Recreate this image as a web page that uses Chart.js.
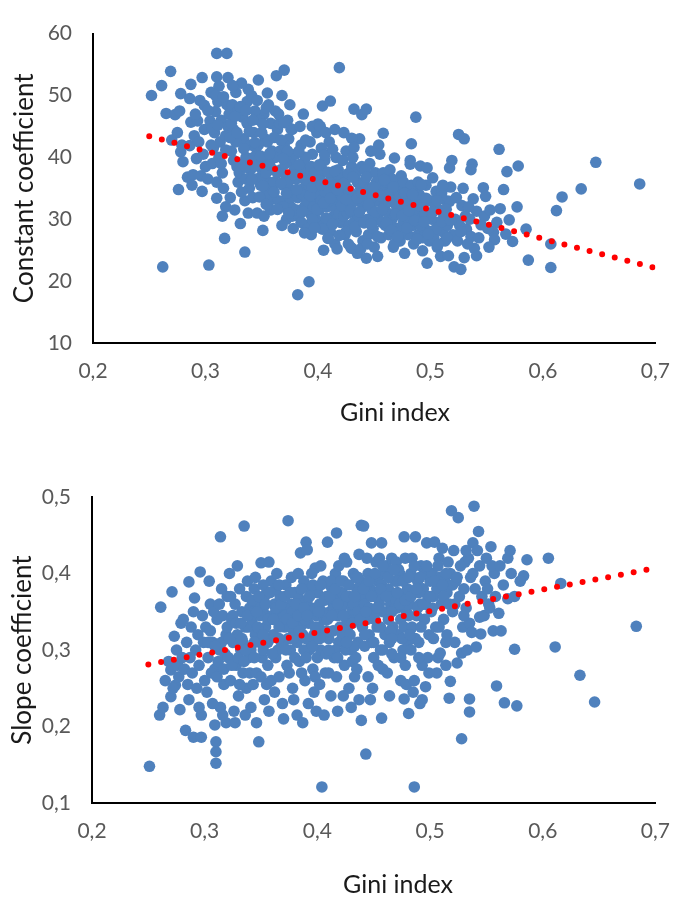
<!DOCTYPE html>
<html><head><meta charset="utf-8">
<script src="https://cdn.jsdelivr.net/npm/chart.js@4.4.1/dist/chart.umd.min.js"></script>
<style>
html,body{margin:0;padding:0;background:#fff;}
#wrap{position:relative;width:686px;height:900px;overflow:hidden;}
canvas{position:absolute;left:0;}
#c1{top:0;} #c2{top:440px;}
</style></head><body>
<div id="wrap"><canvas id="c1" width="686" height="440"></canvas><canvas id="c2" width="686" height="460"></canvas></div>
<script>
const xTickLabels = ['0,2','0,3','0,4','0,5','0,6','0,7'];
const topYTickLabels = ['10','20','30','40','50','60'];
const bottomYTickLabels = ['0,1','0,2','0,3','0,4','0,5'];
const xTitle = 'Gini index';

// Gini index vs constant coefficient
const constantPoints = [
[0.252,50.0],[0.262,22.3],[0.261,51.6],[0.265,47.1],[0.273,46.9],[0.269,53.9],[0.270,42.8],[0.275,44.0],[0.276,34.8],[0.278,50.3],[0.278,40.9],[0.280,39.3],[0.277,47.5],[0.279,42.0],
[0.284,36.8],[0.286,41.9],[0.287,51.8],[0.286,49.5],[0.287,45.7],[0.289,37.2],[0.292,39.8],[0.293,45.9],[0.295,49.2],[0.297,52.9],[0.297,34.5],[0.299,48.4],[0.290,43.5],[0.294,42.5],[0.298,40.5],[0.296,37.0],[0.291,47.0],[0.299,44.5],[0.300,38.5],[0.288,35.5],
[0.303,22.6],[0.304,45.9],[0.309,47.4],[0.310,53.0],[0.310,56.8],[0.310,33.4],[0.317,26.9],[0.318,32.0],[0.319,56.8],[0.305,50.5],[0.307,41.5],[0.302,36.5],[0.306,39.0],[0.308,44.0],[0.311,49.0],[0.312,51.5],[0.313,42.5],[0.314,46.0],[0.315,37.5],[0.316,35.0],[0.312,40.0],[0.318,43.5],[0.319,48.5],[0.320,52.9],[0.310,36.0],[0.305,42.0],[0.315,30.5],[0.320,45.0],[0.314,39.0],[0.309,50.0],
[0.321,47.0],[0.323,41.0],[0.325,44.5],[0.327,50.5],[0.328,38.5],[0.329,36.0],[0.331,29.3],[0.335,24.7],[0.333,46.5],[0.334,43.0],[0.336,40.0],[0.337,49.0],[0.338,51.0],[0.339,35.0],[0.322,33.5],[0.326,31.5],[0.324,48.5],[0.332,52.0],[0.330,37.5],[0.340,42.0],[0.335,33.0],[0.327,42.5],[0.323,45.5],[0.337,45.5],[0.333,39.0],[0.338,31.0],[0.329,47.5],[0.340,38.0],[0.325,39.5],[0.336,36.5],
[0.341,50.0],[0.343,44.0],[0.345,41.5],[0.347,52.5],[0.348,38.5],[0.349,35.5],[0.351,28.2],[0.355,50.4],[0.352,47.0],[0.353,43.0],[0.354,39.5],[0.356,36.0],[0.357,33.0],[0.358,45.5],[0.359,41.0],[0.342,33.5],[0.344,47.5],[0.346,31.0],[0.350,37.0],[0.352,30.5],[0.355,42.5],[0.360,38.0],[0.345,36.5],[0.348,46.0],[0.353,34.0],[0.358,31.5],[0.343,40.0],[0.356,48.5],[0.350,44.0],[0.359,35.0],[0.347,42.0],[0.354,37.5],
[0.363,53.2],[0.368,50.0],[0.370,54.1],[0.362,47.5],[0.364,44.5],[0.366,41.0],[0.367,38.0],[0.369,35.5],[0.371,33.0],[0.372,30.0],[0.373,46.0],[0.374,43.0],[0.376,39.5],[0.377,36.5],[0.378,34.0],[0.379,31.5],[0.375,48.5],[0.361,36.0],[0.365,33.0],[0.368,29.0],[0.370,42.0],[0.372,37.0],[0.374,35.0],[0.376,32.0],[0.378,28.5],[0.380,40.5],[0.362,40.0],[0.366,45.5],[0.371,39.0],[0.373,36.0],[0.375,33.5],[0.377,30.5],[0.379,38.0],[0.364,37.5],[0.369,32.0],[0.373,41.0],[0.377,44.5],[0.382,17.8],[0.376,44.6],
[0.381,36.5],[0.382,33.5],[0.383,30.5],[0.384,45.0],[0.385,42.0],[0.386,39.0],[0.387,35.0],[0.388,32.0],[0.389,29.0],[0.390,37.5],[0.391,34.5],[0.392,19.9],[0.393,31.0],[0.394,27.5],[0.395,40.5],[0.396,36.0],[0.397,33.0],[0.398,30.0],[0.399,44.0],[0.384,38.0],[0.386,34.0],[0.388,36.5],[0.390,33.0],[0.392,35.5],[0.394,38.5],[0.396,32.0],[0.398,35.0],[0.381,31.5],[0.385,29.5],[0.389,40.0],[0.393,42.5],[0.397,37.5],[0.400,34.0],[0.387,47.0],[0.391,28.5],[0.395,30.0],[0.383,41.0],[0.395,45.0],[0.400,45.4],[0.389,42.8],
[0.401,31.5],[0.402,36.5],[0.403,33.0],[0.404,48.3],[0.405,29.0],[0.406,39.5],[0.407,35.0],[0.408,32.0],[0.409,27.0],[0.410,42.5],[0.411,49.1],[0.412,37.0],[0.413,34.0],[0.414,30.5],[0.415,26.0],[0.416,40.0],[0.417,36.0],[0.418,33.0],[0.419,54.5],[0.420,29.5],[0.402,45.0],[0.404,38.0],[0.406,34.5],[0.408,30.0],[0.410,36.0],[0.412,33.0],[0.414,35.5],[0.416,31.5],[0.418,38.0],[0.420,35.0],[0.403,41.5],[0.407,44.0],[0.411,28.0],[0.415,44.5],[0.419,31.0],[0.405,25.0],[0.406,40.4],[0.413,41.3],[0.404,28.4],[0.409,26.9],[0.417,25.2],
[0.421,37.0],[0.422,33.5],[0.423,30.5],[0.424,27.5],[0.425,41.0],[0.426,35.0],[0.427,32.0],[0.428,29.0],[0.429,25.5],[0.430,38.5],[0.431,34.0],[0.432,47.8],[0.433,31.0],[0.434,28.0],[0.435,36.0],[0.436,33.0],[0.437,43.0],[0.438,30.0],[0.439,46.9],[0.440,26.5],[0.422,39.5],[0.424,36.0],[0.426,31.0],[0.428,34.5],[0.430,32.5],[0.432,29.5],[0.434,37.5],[0.436,30.5],[0.438,35.0],[0.440,32.0],[0.423,44.0],[0.427,26.0],[0.431,40.0],[0.435,24.5],[0.439,38.5],[0.425,28.0],[0.430,43.1],[0.432,41.6],[0.430,25.3],[0.438,25.2],[0.443,23.7],
[0.441,36.0],[0.443,47.8],[0.442,33.0],[0.444,30.0],[0.445,27.5],[0.446,39.0],[0.447,34.5],[0.448,31.5],[0.449,28.5],[0.450,25.5],[0.451,37.5],[0.452,33.0],[0.453,30.0],[0.454,42.0],[0.455,40.5],[0.456,27.0],[0.457,35.0],[0.458,43.9],[0.459,32.0],[0.460,29.0],[0.442,38.0],[0.446,35.0],[0.448,33.5],[0.452,36.0],[0.454,31.0],[0.456,34.0],[0.458,37.5],[0.444,26.0],[0.450,30.0],[0.460,33.5],[0.447,41.0],[0.453,24.0],[0.457,29.5],
[0.461,36.0],[0.462,31.0],[0.463,27.5],[0.464,38.0],[0.465,34.5],[0.466,30.0],[0.467,25.5],[0.468,39.9],[0.469,33.0],[0.470,28.5],[0.471,35.5],[0.472,31.5],[0.473,26.5],[0.474,37.0],[0.475,33.0],[0.476,29.5],[0.477,24.5],[0.478,35.0],[0.479,31.0],[0.480,27.5],[0.462,34.0],[0.466,36.5],[0.470,32.0],[0.474,28.0],[0.478,32.5],[0.464,29.0],[0.468,26.0],[0.472,34.5],[0.476,36.0],[0.480,30.0],
[0.482,39.5],[0.482,38.9],[0.483,42.2],[0.487,46.5],[0.481,33.0],[0.484,29.0],[0.485,26.0],[0.486,35.0],[0.488,31.0],[0.489,27.5],[0.490,34.0],[0.491,38.6],[0.492,30.0],[0.493,24.9],[0.494,32.5],[0.495,28.5],[0.496,35.5],[0.497,22.9],[0.497,38.3],[0.498,30.5],[0.499,26.5],[0.500,33.0],[0.483,35.5],[0.487,33.5],[0.491,29.0],[0.495,31.0],[0.485,31.5],[0.489,36.0],[0.493,27.0],[0.500,28.0],
[0.502,36.7],[0.504,32.3],[0.501,30.0],[0.503,27.0],[0.505,34.5],[0.506,25.5],[0.507,29.5],[0.508,31.5],[0.509,24.0],[0.510,34.3],[0.511,28.0],[0.512,30.5],[0.513,26.5],[0.514,33.0],[0.515,29.0],[0.516,24.1],[0.517,32.9],[0.517,38.3],[0.518,35.2],[0.519,39.5],[0.520,27.5],[0.505,28.5],[0.509,33.5],[0.513,31.0],[0.507,26.0],[0.511,35.5],[0.515,27.0],
[0.521,22.3],[0.525,43.7],[0.527,21.9],[0.528,32.2],[0.530,43.0],[0.530,23.8],[0.532,28.4],[0.536,27.2],[0.537,38.9],[0.536,38.0],[0.538,33.3],[0.539,25.3],[0.541,31.3],[0.541,24.1],[0.522,30.0],[0.524,26.5],[0.526,29.0],[0.529,35.0],[0.531,30.5],[0.533,26.0],[0.535,30.0],[0.523,33.5],[0.527,28.0],[0.534,32.0],
[0.545,29.1],[0.547,35.1],[0.549,33.7],[0.556,27.9],[0.557,26.7],[0.561,41.3],[0.562,31.7],[0.565,34.8],[0.567,27.6],[0.568,37.7],[0.570,29.9],[0.573,26.4],[0.577,32.0],[0.578,38.6],[0.585,28.4],[0.587,23.4],[0.543,27.0],[0.548,30.5],[0.552,25.5],[0.551,28.5],[0.559,29.5],[0.553,31.5],
[0.607,26.0],[0.607,22.2],[0.612,31.4],[0.617,33.6],[0.634,34.9],[0.647,39.2],[0.686,35.7],
[0.372,34.2],[0.374,31.0],[0.378,37.2],[0.381,34.8],[0.383,38.8],[0.386,31.2],[0.388,27.8],[0.391,36.2],[0.393,33.8],[0.395,35.2],[0.397,28.6],[0.399,31.6],[0.401,38.8],[0.403,35.6],[0.405,32.6],[0.407,30.2],[0.409,37.6],[0.411,33.4],[0.413,29.2],[0.415,37.8],[0.417,34.8],[0.419,27.4],[0.421,32.2],[0.423,35.8],[0.425,33.2],[0.427,37.4],[0.429,31.4],[0.431,36.8],[0.433,28.8],[0.435,33.4],[0.437,31.2],[0.439,34.2],[0.441,29.4],[0.443,36.8],[0.445,32.4],[0.447,29.2],[0.449,35.2],[0.451,31.2],[0.453,27.2],[0.455,33.8],[0.457,31.6],[0.459,36.4],[0.461,29.4],[0.463,32.8],[0.465,28.2],[0.467,35.2],[0.469,30.8],[0.471,27.2],[0.473,33.6],[0.475,30.6],[0.477,34.2],[0.479,28.6],[0.481,31.4],[0.484,34.0],[0.486,29.8],[0.488,26.8],[0.490,32.2],[0.492,35.6],[0.494,29.6],[0.496,33.4],[0.498,27.6],[0.502,31.2],[0.506,33.0],[0.510,29.6],[0.514,31.6],[0.518,29.8],
[0.302,47.6],[0.306,44.6],[0.311,45.2],[0.316,49.8],[0.318,41.2],[0.322,43.2],[0.324,51.6],[0.326,46.6],[0.328,44.0],[0.331,48.2],[0.334,41.4],[0.336,47.6],[0.339,44.2],[0.342,46.0],[0.344,42.4],[0.346,49.2],[0.349,40.2],[0.351,45.4],[0.354,48.0],[0.357,40.6],[0.361,43.2],[0.365,47.0],[0.367,42.8],[0.370,45.6],
[0.332,34.4],[0.336,38.4],[0.341,36.4],[0.344,38.6],[0.348,33.6],[0.351,35.4],[0.354,32.4],[0.357,38.8],[0.361,34.4],[0.364,31.6],[0.367,35.8],[0.369,39.8]
];

// Gini index vs slope coefficient
const slopePoints = [
[0.251,0.148],[0.261,0.356],[0.260,0.215],[0.263,0.225],[0.270,0.239],[0.274,0.254],[0.270,0.274],[0.271,0.376],[0.273,0.318],[0.278,0.222],[0.279,0.335],[0.265,0.260],[0.268,0.285],[0.275,0.300],[0.277,0.265],[0.280,0.290],[0.272,0.250],[0.276,0.280],
[0.283,0.195],[0.286,0.389],[0.290,0.186],[0.291,0.368],[0.296,0.402],[0.297,0.186],[0.284,0.310],[0.288,0.330],[0.292,0.300],[0.294,0.320],[0.298,0.345],[0.282,0.275],[0.285,0.255],[0.287,0.290],[0.289,0.270],[0.293,0.250],[0.295,0.280],[0.299,0.310],[0.300,0.260],[0.286,0.235],[0.297,0.215],[0.290,0.350],[0.281,0.340],[0.295,0.225],
[0.309,0.202],[0.310,0.180],[0.310,0.167],[0.310,0.152],[0.314,0.448],[0.301,0.330],[0.303,0.290],[0.305,0.360],[0.307,0.310],[0.309,0.275],[0.311,0.340],[0.313,0.300],[0.315,0.380],[0.317,0.255],[0.319,0.320],[0.302,0.245],[0.304,0.390],[0.306,0.270],[0.308,0.350],[0.312,0.285],[0.314,0.225],[0.316,0.345],[0.318,0.295],[0.320,0.370],[0.303,0.310],[0.307,0.230],[0.311,0.265],[0.315,0.310],[0.319,0.205],[0.305,0.325],[0.313,0.360],[0.317,0.275],[0.320,0.330],[0.309,0.305],[0.316,0.215],
[0.321,0.290],[0.322,0.400],[0.323,0.260],[0.324,0.340],[0.325,0.310],[0.326,0.220],[0.327,0.360],[0.328,0.280],[0.329,0.320],[0.330,0.240],[0.331,0.380],[0.332,0.300],[0.333,0.350],[0.334,0.270],[0.335,0.462],[0.336,0.330],[0.337,0.250],[0.338,0.390],[0.339,0.290],[0.340,0.355],[0.322,0.315],[0.325,0.345],[0.328,0.335],[0.331,0.255],[0.334,0.310],[0.337,0.370],[0.340,0.270],[0.324,0.280],[0.327,0.205],[0.330,0.290],[0.333,0.315],[0.336,0.215],[0.339,0.330],[0.323,0.370],[0.329,0.410],[0.335,0.285],
[0.341,0.300],[0.342,0.340],[0.343,0.255],[0.344,0.380],[0.345,0.320],[0.346,0.270],[0.347,0.360],[0.348,0.180],[0.349,0.310],[0.350,0.414],[0.351,0.290],[0.352,0.350],[0.353,0.235],[0.354,0.330],[0.355,0.375],[0.356,0.280],[0.357,0.415],[0.358,0.315],[0.359,0.260],[0.360,0.345],[0.341,0.225],[0.344,0.290],[0.347,0.330],[0.350,0.265],[0.353,0.370],[0.356,0.310],[0.359,0.390],[0.343,0.350],[0.346,0.205],[0.349,0.345],[0.352,0.300],[0.355,0.255],[0.358,0.340],[0.345,0.395],[0.351,0.320],[0.357,0.220],
[0.361,0.320],[0.362,0.360],[0.363,0.290],[0.364,0.400],[0.365,0.340],[0.366,0.265],[0.367,0.370],[0.368,0.310],[0.369,0.350],[0.370,0.210],[0.371,0.330],[0.372,0.385],[0.373,0.280],[0.374,0.469],[0.375,0.345],[0.376,0.300],[0.377,0.360],[0.378,0.250],[0.379,0.325],[0.380,0.375],[0.362,0.245],[0.365,0.300],[0.368,0.340],[0.371,0.355],[0.374,0.315],[0.377,0.395],[0.380,0.290],[0.363,0.380],[0.366,0.330],[0.369,0.230],[0.372,0.345],[0.375,0.270],[0.378,0.350],[0.364,0.355],[0.370,0.310],[0.376,0.330],[0.379,0.235],
[0.381,0.340],[0.382,0.310],[0.383,0.370],[0.384,0.285],[0.385,0.427],[0.386,0.350],[0.387,0.320],[0.388,0.390],[0.389,0.260],[0.390,0.441],[0.391,0.431],[0.392,0.335],[0.393,0.300],[0.394,0.380],[0.395,0.355],[0.396,0.275],[0.397,0.320],[0.398,0.407],[0.399,0.345],[0.400,0.290],[0.382,0.215],[0.385,0.330],[0.388,0.300],[0.391,0.365],[0.394,0.310],[0.397,0.245],[0.400,0.375],[0.383,0.400],[0.386,0.270],[0.389,0.340],[0.392,0.230],[0.395,0.400],[0.398,0.265],[0.384,0.360],[0.390,0.315],[0.396,0.350],[0.399,0.220],[0.387,0.205],
[0.401,0.330],[0.402,0.360],[0.403,0.300],[0.404,0.121],[0.405,0.390],[0.406,0.340],[0.407,0.270],[0.408,0.370],[0.409,0.441],[0.410,0.315],[0.411,0.350],[0.412,0.240],[0.413,0.380],[0.414,0.325],[0.415,0.290],[0.416,0.400],[0.417,0.453],[0.418,0.345],[0.419,0.310],[0.420,0.370],[0.402,0.255],[0.405,0.320],[0.408,0.295],[0.411,0.385],[0.414,0.360],[0.417,0.265],[0.420,0.330],[0.403,0.410],[0.406,0.215],[0.409,0.340],[0.412,0.390],[0.415,0.355],[0.418,0.220],[0.404,0.350],[0.410,0.270],[0.416,0.300],[0.419,0.410],
[0.421,0.350],[0.422,0.320],[0.423,0.390],[0.424,0.280],[0.425,0.360],[0.426,0.415],[0.427,0.330],[0.428,0.250],[0.429,0.370],[0.430,0.300],[0.431,0.355],[0.432,0.400],[0.433,0.265],[0.434,0.340],[0.435,0.380],[0.436,0.310],[0.437,0.425],[0.438,0.360],[0.439,0.463],[0.440,0.330],[0.422,0.375],[0.425,0.300],[0.428,0.345],[0.431,0.285],[0.434,0.395],[0.437,0.235],[0.440,0.370],[0.423,0.240],[0.426,0.340],[0.429,0.320],[0.432,0.360],[0.435,0.275],[0.438,0.390],[0.424,0.420],[0.430,0.225],[0.436,0.350],[0.439,0.208],[0.433,0.305],
[0.441,0.462],[0.443,0.164],[0.442,0.360],[0.444,0.340],[0.445,0.400],[0.446,0.320],[0.447,0.380],[0.448,0.440],[0.449,0.350],[0.450,0.290],[0.451,0.370],[0.452,0.415],[0.453,0.330],[0.454,0.390],[0.455,0.360],[0.456,0.300],[0.457,0.440],[0.457,0.211],[0.458,0.350],[0.459,0.400],[0.460,0.375],[0.442,0.305],[0.445,0.265],[0.448,0.310],[0.451,0.340],[0.454,0.280],[0.457,0.385],[0.460,0.320],[0.443,0.385],[0.446,0.355],[0.449,0.250],[0.452,0.370],[0.455,0.420],[0.458,0.275],[0.444,0.420],[0.450,0.345],[0.456,0.330],[0.447,0.235],
[0.461,0.410],[0.462,0.350],[0.463,0.380],[0.464,0.310],[0.465,0.360],[0.466,0.420],[0.467,0.330],[0.468,0.290],[0.469,0.390],[0.470,0.415],[0.471,0.355],[0.472,0.320],[0.473,0.400],[0.474,0.340],[0.475,0.370],[0.476,0.300],[0.477,0.448],[0.477,0.236],[0.478,0.420],[0.479,0.350],[0.480,0.380],[0.462,0.270],[0.465,0.325],[0.468,0.370],[0.471,0.390],[0.474,0.260],[0.477,0.330],[0.480,0.310],[0.463,0.340],[0.466,0.295],[0.469,0.355],[0.472,0.405],[0.475,0.315],[0.478,0.280],[0.464,0.240],[0.470,0.365],[0.476,0.360],[0.479,0.255],
[0.481,0.217],[0.482,0.360],[0.483,0.400],[0.484,0.330],[0.485,0.375],[0.486,0.121],[0.487,0.448],[0.488,0.345],[0.489,0.390],[0.490,0.310],[0.491,0.360],[0.492,0.410],[0.493,0.280],[0.494,0.380],[0.495,0.340],[0.496,0.252],[0.497,0.440],[0.498,0.370],[0.499,0.320],[0.500,0.390],[0.483,0.300],[0.486,0.260],[0.489,0.355],[0.492,0.330],[0.495,0.400],[0.498,0.290],[0.484,0.420],[0.487,0.315],[0.490,0.375],[0.493,0.235],[0.496,0.360],[0.499,0.270],[0.481,0.345],[0.485,0.245],[0.491,0.230],
[0.501,0.350],[0.502,0.400],[0.503,0.370],[0.504,0.441],[0.505,0.330],[0.506,0.380],[0.507,0.290],[0.508,0.420],[0.509,0.296],[0.510,0.360],[0.511,0.433],[0.512,0.340],[0.513,0.390],[0.514,0.310],[0.515,0.375],[0.516,0.415],[0.517,0.237],[0.518,0.259],[0.519,0.482],[0.520,0.350],[0.503,0.315],[0.506,0.270],[0.509,0.395],[0.512,0.370],[0.515,0.320],[0.518,0.400],[0.502,0.355],[0.508,0.330],[0.514,0.280],[0.520,0.385],
[0.521,0.430],[0.522,0.360],[0.523,0.390],[0.524,0.283],[0.525,0.473],[0.526,0.370],[0.527,0.410],[0.528,0.184],[0.528,0.296],[0.529,0.330],[0.530,0.380],[0.531,0.415],[0.532,0.355],[0.533,0.300],[0.534,0.420],[0.535,0.236],[0.535,0.219],[0.535,0.335],[0.536,0.395],[0.537,0.323],[0.538,0.440],[0.539,0.488],[0.540,0.380],[0.541,0.304],[0.522,0.310],[0.530,0.345],[0.538,0.400],[0.524,0.395],[0.532,0.430],
[0.542,0.430],[0.543,0.455],[0.544,0.343],[0.544,0.410],[0.546,0.370],[0.548,0.345],[0.549,0.390],[0.550,0.420],[0.552,0.360],[0.553,0.355],[0.554,0.435],[0.556,0.325],[0.557,0.400],[0.559,0.253],[0.561,0.348],[0.545,0.321],[0.551,0.380],[0.555,0.410],[0.558,0.370],
[0.563,0.325],[0.566,0.231],[0.569,0.367],[0.569,0.420],[0.571,0.430],[0.572,0.400],[0.575,0.301],[0.577,0.227],[0.583,0.397],[0.586,0.418],[0.565,0.385],[0.562,0.410],[0.575,0.370],[0.580,0.390],
[0.605,0.420],[0.611,0.304],[0.616,0.387],[0.633,0.267],[0.646,0.232],[0.683,0.331],
[0.332,0.335],[0.338,0.345],[0.342,0.365],[0.346,0.350],[0.348,0.370],[0.352,0.385],[0.354,0.360],[0.356,0.340],[0.358,0.375],[0.361,0.340],[0.363,0.355],[0.366,0.385],[0.368,0.360],[0.371,0.370],[0.373,0.340],[0.376,0.375],[0.378,0.335],[0.381,0.360],[0.383,0.345],[0.386,0.380],[0.388,0.355],[0.391,0.345],[0.393,0.370],[0.396,0.385],[0.398,0.330],[0.401,0.350],[0.403,0.385],[0.406,0.365],[0.408,0.325],[0.411,0.370],[0.413,0.345],[0.416,0.380],[0.418,0.360],[0.421,0.390],[0.423,0.345],[0.426,0.370],[0.428,0.385],[0.431,0.335],[0.433,0.370],[0.436,0.395],[0.438,0.340],[0.441,0.380],[0.443,0.350],[0.446,0.390],[0.448,0.370],[0.451,0.400],[0.453,0.355],[0.456,0.380],[0.458,0.410],[0.461,0.370],[0.463,0.395],[0.466,0.350],[0.468,0.405],[0.471,0.375],[0.473,0.360],[0.476,0.390],[0.478,0.365],[0.481,0.395],[0.483,0.370],[0.486,0.410],[0.488,0.380],[0.491,0.395],[0.494,0.360],[0.497,0.410],[0.500,0.370],[0.504,0.390],[0.507,0.410],[0.511,0.385],[0.514,0.400],[0.517,0.360],
[0.336,0.300],[0.344,0.310],[0.352,0.320],[0.360,0.295],[0.366,0.315],[0.372,0.300],[0.378,0.315],[0.384,0.325],[0.390,0.290],[0.396,0.305],[0.402,0.315],[0.410,0.300],[0.418,0.290],[0.426,0.310],[0.434,0.290],[0.442,0.320],[0.450,0.310],[0.458,0.300],[0.466,0.315],[0.474,0.290],[0.482,0.320],[0.490,0.290]
];

const trendTopX = [0.25, 0.70];
const trendTopY = [43.4, 22.1];
const trendBottomX = [0.25, 0.70];
const trendBottomY = [0.281, 0.407];

const BLUE = '#4f81bd';
const FONT = 'Lato, Carlito, Calibri, "Open Sans", sans-serif';

// draws the x-axis title centred where the reference puts it
const xTitlePlugin = {
  id: 'xTitlePlugin',
  afterDraw(chart, args, opts) {
    const ctx = chart.ctx;
    ctx.save();
    ctx.font = opts.size + 'px ' + FONT;
    ctx.fillStyle = '#1a1a1a';
    ctx.textAlign = 'center';
    ctx.textBaseline = 'middle';
    ctx.fillText(opts.text, opts.cx, opts.cy);
    ctx.restore();
  }
};

function makeChart(id, pts, tx, ty, yMin, yMax, yStep, yLabels, yTitle, padTop, yWidth, xt, titleSize, yTitlePad) {
  const points = pts.map(p => ({x: p[0], y: p[1]}));
  const trend = tx.map((x, i) => ({x: x, y: ty[i]}));
  new Chart(document.getElementById(id), {
    type: 'scatter',
    plugins: [xTitlePlugin],
    data: {
      datasets: [
        {
          type: 'line', data: trend, order: 0, showLine: true,
          borderColor: '#ff0000', borderWidth: 6, borderDash: [0, 13],
          borderCapStyle: 'round', pointRadius: 0, fill: false, tension: 0
        },
        {
          data: points, order: 1,
          backgroundColor: BLUE, borderColor: BLUE, borderWidth: 0,
          pointRadius: 5.8, pointHoverRadius: 5.8
        }
      ]
    },
    options: {
      responsive: false, animation: false, devicePixelRatio: 1,
      layout: {padding: {top: padTop, right: 18, left: 0, bottom: 0}},
      plugins: {legend: {display: false}, tooltip: {enabled: false}, xTitlePlugin: xt},
      scales: {
        x: {
          type: 'linear', min: 0.2, max: 0.7,
          grid: {display: true, drawOnChartArea: false, drawTicks: false},
          border: {display: true, color: '#000', width: 2},
          ticks: {stepSize: 0.1, padding: 16, color: '#595959',
                  font: {family: FONT, size: 21},
                  callback: (v, i) => xTickLabels[i]},
          title: {display: false},
          afterFit: s => { s.height = 97; }
        },
        y: {
          type: 'linear', min: yMin, max: yMax,
          grid: {display: true, drawOnChartArea: false, drawTicks: false},
          border: {display: true, color: '#000', width: 2},
          ticks: {stepSize: yStep, padding: 21, color: '#595959',
                  font: {family: FONT, size: 21},
                  callback: (v, i) => yLabels[i]},
          title: {display: true, text: yTitle, color: '#1a1a1a',
                  font: {family: FONT, size: titleSize}, padding: {top: yTitlePad, bottom: 0}},
          afterFit: s => { s.width = yWidth; }
        }
      }
    }
  });
}

makeChart('c1', constantPoints, trendTopX, trendTopY, 10, 60, 10, topYTickLabels, 'Constant coefficient', 14, 93,
          {text: xTitle, cx: 395, cy: 413, size: 25}, 26, 9);
makeChart('c2', slopePoints, trendBottomX, trendBottomY, 0.1, 0.5, 0.1, bottomYTickLabels, 'Slope coefficient', 57, 92,
          {text: xTitle, cx: 398, cy: 445, size: 25}, 26, 7);
</script>
</body></html>
